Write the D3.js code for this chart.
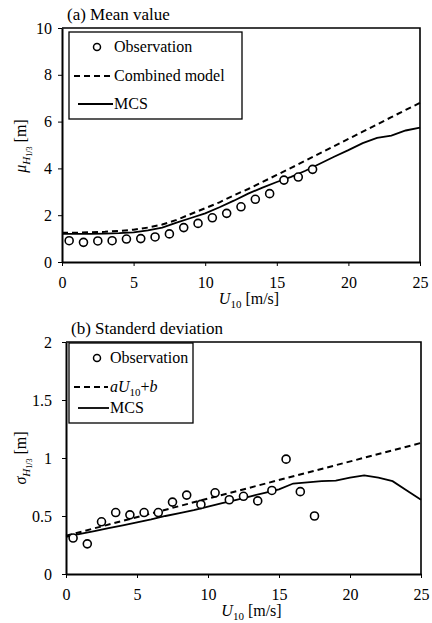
<!DOCTYPE html>
<html>
<head>
<meta charset="utf-8">
<script src="https://cdn.jsdelivr.net/npm/d3@7/dist/d3.min.js"></script>
<style>
  html, body { margin: 0; padding: 0; background: #fff; }
</style>
</head>
<body>
<svg id="chart" width="432" height="623"></svg>
<script>
// ---- data ----
// (a) mean significant wave height
const obsU = [0.5, 1.5, 2.5, 3.5, 4.5, 5.5, 6.5, 7.5, 8.5, 9.5, 10.5, 11.5, 12.5, 13.5, 14.5, 15.5, 16.5, 17.5];
const meanObs = [0.91, 0.84, 0.90, 0.91, 0.98, 1.00, 1.07, 1.20, 1.47, 1.65, 1.89, 2.08, 2.36, 2.68, 2.92, 3.50, 3.63, 3.96];
const modelU = [0, 1, 2, 3, 4, 5, 6, 7, 8, 9, 10, 11, 12, 13, 14, 15, 16, 17, 18, 19, 20, 21, 22, 23, 24, 25];
const meanCombined = [1.25, 1.25, 1.27, 1.29, 1.33, 1.38, 1.47, 1.60, 1.80, 2.05, 2.30, 2.55, 2.85, 3.12, 3.42, 3.72, 4.02, 4.33, 4.64, 4.95, 5.26, 5.57, 5.88, 6.19, 6.50, 6.80];
const meanMCS = [1.20, 1.20, 1.20, 1.21, 1.23, 1.27, 1.35, 1.47, 1.68, 1.88, 2.08, 2.34, 2.62, 2.92, 3.18, 3.42, 3.64, 3.90, 4.20, 4.50, 4.78, 5.08, 5.30, 5.40, 5.62, 5.74];

// (b) standard deviation of significant wave height
const sdObs = [0.31, 0.26, 0.45, 0.53, 0.51, 0.53, 0.53, 0.62, 0.68, 0.60, 0.70, 0.64, 0.67, 0.63, 0.72, 0.99, 0.71, 0.50];
const linearU = [0, 25];
const sdLinear = [0.33, 1.13];
const sdMCS = [0.32, 0.345, 0.37, 0.395, 0.42, 0.445, 0.47, 0.50, 0.525, 0.55, 0.58, 0.61, 0.64, 0.67, 0.70, 0.73, 0.78, 0.79, 0.80, 0.805, 0.83, 0.85, 0.83, 0.80, 0.72, 0.64];

const xTicks = [0, 5, 10, 15, 20, 25];
const meanTicks = [0, 2, 4, 6, 8, 10];
const sdTicks = [0, 0.5, 1, 1.5, 2];
const sdTickLabels = ["0", "0.5", "1", "1.5", "2"];

// ---- drawing ----
const svg = d3.select("#chart");
const FS = 16;
const FONT = "Liberation Serif";

function panel(opt) {
  const x = d3.scaleLinear().domain([0, 25]).range([opt.left, opt.right]);
  const y = d3.scaleLinear().domain(opt.yDomain).range([opt.bottom, opt.top]);
  const g = svg.append("g").attr("font-family", FONT);

  // frame (top / right)
  g.append("path")
    .attr("d", `M${opt.left},${opt.top}H${opt.right}V${opt.bottom}`)
    .attr("fill", "none").attr("stroke", "#000").attr("stroke-width", 1.6);

  // y axis
  const ya = g.append("g").attr("transform", `translate(${opt.left},0)`)
    .call(d3.axisLeft(y).tickValues(opt.yTicks).tickSize(4).tickSizeOuter(0)
      .tickPadding(opt.yPad).tickFormat((d, i) => opt.yLabels[i]));
  ya.attr("font-family", FONT);
  ya.select(".domain").attr("stroke-width", 2);
  ya.selectAll("text").attr("font-size", FS).attr("fill", "#000").attr("font-family", FONT);

  // x axis
  const xa = g.append("g").attr("transform", `translate(0,${opt.bottom})`)
    .call(d3.axisBottom(x).tickValues(xTicks).tickSize(4).tickSizeOuter(0).tickPadding(11));
  xa.attr("font-family", FONT);
  xa.select(".domain").attr("stroke-width", 2);
  xa.selectAll("text").attr("font-size", FS).attr("fill", "#000").attr("font-family", FONT);

  const line = d3.line().x(d => x(d[0])).y(d => y(d[1]));

  // dashed model line
  g.append("path")
    .datum(d3.zip(opt.dashU, opt.dashV))
    .attr("d", line).attr("fill", "none").attr("stroke", "#000")
    .attr("stroke-width", 2).attr("stroke-dasharray", "6,4");

  // MCS line
  g.append("path")
    .datum(d3.zip(modelU, opt.mcs))
    .attr("d", line).attr("fill", "none").attr("stroke", "#000")
    .attr("stroke-width", 1.8);

  // observations
  g.selectAll("circle.obs").data(d3.zip(obsU, opt.obs)).join("circle")
    .attr("class", "obs")
    .attr("cx", d => x(d[0])).attr("cy", d => y(d[1])).attr("r", 4)
    .attr("fill", "#fff").attr("stroke", "#000").attr("stroke-width", 1.6);

  // panel title
  g.append("text").attr("x", opt.left + 5).attr("y", opt.top - 8)
    .attr("font-family", FONT).attr("font-size", 17).text(opt.title);

  // x label
  const xl = g.append("text").attr("x", (opt.left + opt.right) / 2 + 8).attr("y", opt.bottom + 42)
    .attr("font-family", FONT).attr("text-anchor", "middle").attr("font-size", FS);
  xl.append("tspan").attr("font-style", "italic").text("U");
  xl.append("tspan").attr("font-size", 11).attr("dy", 4).text("10");
  xl.append("tspan").attr("dy", -4).text(" [m/s]");

  // y label
  const yl = g.append("text")
    .attr("transform", `translate(${opt.yLabelX},${opt.yLabelY}) rotate(-90)`)
    .attr("font-family", FONT).attr("text-anchor", "middle").attr("font-size", FS);
  yl.append("tspan").attr("font-style", "italic").text(opt.yLabelSym);
  yl.append("tspan").attr("font-size", 11).attr("dy", 4).attr("font-style", "italic").text("H");
  yl.append("tspan").attr("font-size", 8).attr("dy", 2).text("1/3");
  yl.append("tspan").attr("dy", -6).text(" [m]");

  // legend
  const L = opt.legend;
  g.append("rect").attr("x", L.x).attr("y", L.y).attr("width", L.w).attr("height", L.h)
    .attr("fill", "#fff").attr("stroke", "#000").attr("stroke-width", 1.3);
  g.append("circle").attr("cx", L.x + 28).attr("cy", L.y + 15).attr("r", 3.5)
    .attr("fill", "#fff").attr("stroke", "#000").attr("stroke-width", 1.5);
  g.append("text").attr("x", L.textX).attr("y", L.y + 20).attr("font-family", FONT)
    .attr("font-size", FS).text("Observation");
  g.append("line").attr("x1", L.x + 5).attr("x2", L.textX - 2).attr("y1", L.y + 44).attr("y2", L.y + 44)
    .attr("stroke", "#000").attr("stroke-width", 1.8).attr("stroke-dasharray", "6,4");
  L.dashLabel(g.append("text").attr("x", L.textX).attr("y", L.y + 49)
    .attr("font-family", FONT).attr("font-size", FS));
  g.append("line").attr("x1", L.x + 9).attr("x2", L.textX - 1).attr("y1", L.y + L.solidDy).attr("y2", L.y + L.solidDy)
    .attr("stroke", "#000").attr("stroke-width", 1.8);
  g.append("text").attr("x", L.textX).attr("y", L.y + L.solidDy + 5).attr("font-family", FONT)
    .attr("font-size", FS).text("MCS");
}

panel({
  left: 62, right: 420, top: 28, bottom: 262,
  yDomain: [0, 10], yTicks: meanTicks, yLabels: meanTicks.map(String), yPad: 6,
  dashU: modelU, dashV: meanCombined, mcs: meanMCS, obs: meanObs,
  title: "(a) Mean value",
  yLabelSym: "\u03bc", yLabelX: 26, yLabelY: 146,
  legend: {
    x: 69, y: 32, w: 173, h: 87, textX: 114, solidDy: 72,
    dashLabel: t => t.text("Combined model")
  }
});

panel({
  left: 66, right: 421, top: 342, bottom: 574,
  yDomain: [0, 2], yTicks: sdTicks, yLabels: sdTickLabels, yPad: 10,
  dashU: linearU, dashV: sdLinear, mcs: sdMCS, obs: sdObs,
  title: "(b) Standerd deviation",
  yLabelSym: "\u03c3", yLabelX: 26, yLabelY: 458,
  legend: {
    x: 69, y: 343, w: 124, h: 80, textX: 110, solidDy: 65,
    dashLabel: t => {
      t.append("tspan").attr("font-style", "italic").text("aU");
      t.append("tspan").attr("font-size", 11).attr("dy", 4).text("10");
      t.append("tspan").attr("dy", -4).text("+");
      t.append("tspan").attr("font-style", "italic").text("b");
    }
  }
});
</script>
</body>
</html>
